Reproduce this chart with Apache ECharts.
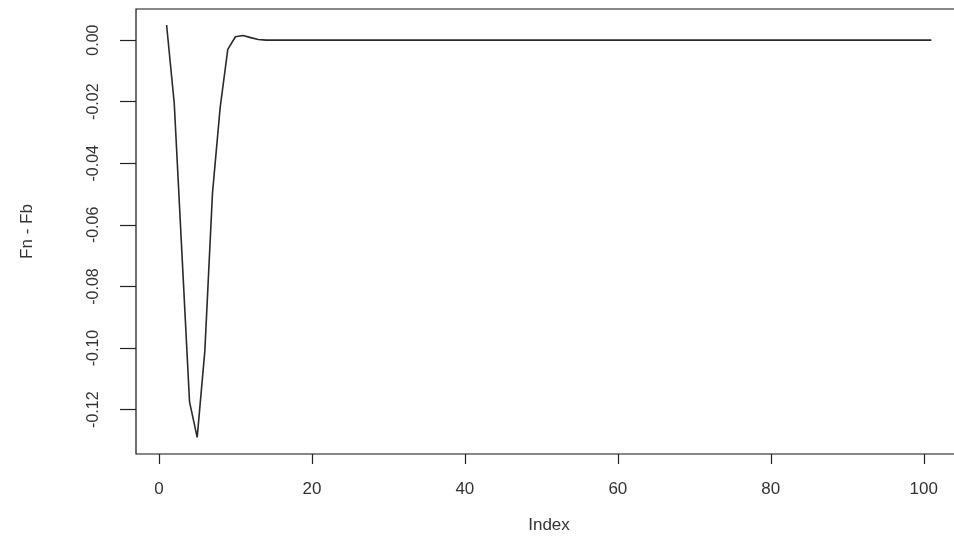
<!DOCTYPE html>
<html>
<head>
<meta charset="utf-8">
<script src="https://cdn.jsdelivr.net/npm/echarts@6/dist/echarts.min.js"></script>
<style>
html,body{margin:0;padding:0;background:#fff;}
#c{width:954px;height:540px;}
</style>
</head>
<body>
<div id="c"></div>
<script>
// Values of Fn - Fb at Index 1..101
var fnMinusFb = [
  0.0049, -0.0205, -0.069, -0.1175, -0.129, -0.101, -0.0497, -0.022, -0.003, 0.0011,
  0.0015, 0.0008, 0.0002, 0, 0, 0, 0, 0, 0, 0,
  0, 0, 0, 0, 0, 0, 0, 0, 0, 0,
  0, 0, 0, 0, 0, 0, 0, 0, 0, 0,
  0, 0, 0, 0, 0, 0, 0, 0, 0, 0,
  0, 0, 0, 0, 0, 0, 0, 0, 0, 0,
  0, 0, 0, 0, 0, 0, 0, 0, 0, 0,
  0, 0, 0, 0, 0, 0, 0, 0, 0, 0,
  0, 0, 0, 0, 0, 0, 0, 0, 0, 0,
  0, 0, 0, 0, 0, 0, 0, 0, 0, 0,
  0
];
var xTicks = [0, 20, 40, 60, 80, 100];
var yTicks = [0.00, -0.02, -0.04, -0.06, -0.08, -0.10, -0.12];
var xTitle = 'Index';
var yTitle = 'Fn - Fb';

var seriesData = fnMinusFb.map(function (v, i) { return [i + 1, v]; });
var font = 'Liberation Sans, Arial, sans-serif';
var chart = echarts.init(document.getElementById('c'), null, {renderer: 'canvas'});
chart.setOption({
  animation: false,
  backgroundColor: '#ffffff',
  grid: {
    left: 136, top: 9, width: 826, height: 445,
    outerBoundsMode: 'none', containLabel: false,
    show: true, borderColor: '#111', borderWidth: 1.2, backgroundColor: 'transparent'
  },
  xAxis: {
    type: 'value', min: -3, max: 105,
    axisLine: {show: false, onZero: false},
    splitLine: {show: false},
    axisTick: {show: true, inside: false, length: 10, customValues: xTicks,
      lineStyle: {color: '#222', width: 1.2}},
    axisLabel: {show: true, customValues: xTicks, margin: 27,
      fontFamily: font, fontSize: 17, color: '#333'},
    name: xTitle, nameLocation: 'middle', nameGap: 63,
    nameTextStyle: {fontFamily: font, fontSize: 17, color: '#333'}
  },
  yAxis: {
    type: 'value', min: -0.1344, max: 0.0101,
    axisLine: {show: false, onZero: false},
    splitLine: {show: false},
    axisTick: {show: true, inside: false, length: 16, customValues: yTicks,
      lineStyle: {color: '#222', width: 1.2}},
    axisLabel: {show: true, customValues: yTicks, rotate: 90, margin: 34,
      fontFamily: font, fontSize: 16, color: '#333',
      formatter: function (v) { return v.toFixed(2); }},
    name: yTitle, nameLocation: 'middle', nameGap: 100, nameRotate: 90,
    nameTextStyle: {fontFamily: font, fontSize: 17, color: '#333'}
  },
  series: [{
    type: 'line',
    data: seriesData,
    showSymbol: false,
    symbol: 'none',
    lineStyle: {color: '#2a2a2a', width: 1.6},
    clip: false
  }]
});
</script>
</body>
</html>
